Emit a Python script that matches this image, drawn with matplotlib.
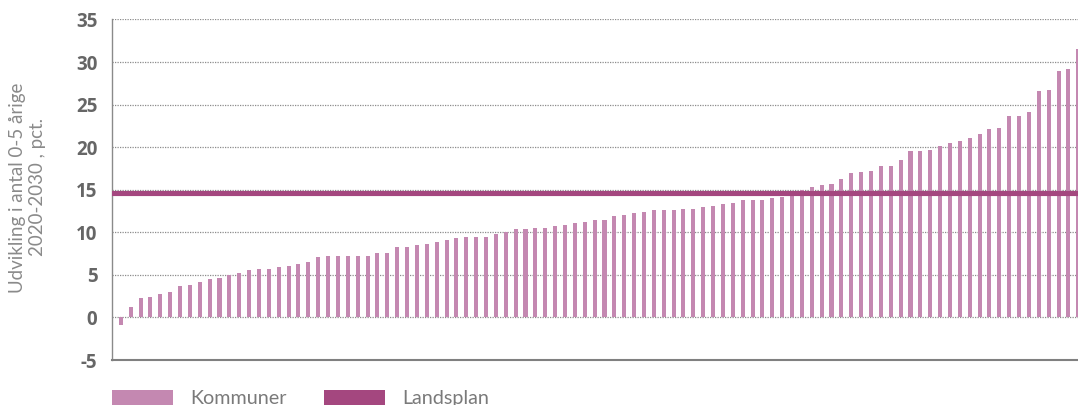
import numpy as np
import matplotlib.pyplot as plt
from matplotlib.patches import Rectangle

# Udvikling i antal 0-5 årige 2020-2030, pct. (kommuner sorteret)
kommuner = [
    -0.9, 1.2, 2.3, 2.4, 2.7, 3.0, 3.7, 3.8, 4.2, 4.5,
    4.6, 5.0, 5.2, 5.6, 5.7, 5.7, 5.9, 6.0, 6.3, 6.5,
    7.1, 7.2, 7.2, 7.2, 7.2, 7.2, 7.6, 7.6, 8.3, 8.3,
    8.5, 8.6, 8.9, 9.1, 9.3, 9.4, 9.4, 9.4, 9.8, 10.0,
    10.4, 10.4, 10.5, 10.5, 10.7, 10.9, 11.1, 11.2, 11.4, 11.4,
    11.9, 12.0, 12.3, 12.4, 12.6, 12.6, 12.6, 12.7, 12.7, 13.0,
    13.1, 13.3, 13.4, 13.8, 13.8, 13.8, 14.0, 14.1, 14.5, 15.0,
    15.3, 15.6, 15.7, 16.3, 17.0, 17.1, 17.2, 17.8, 17.8, 18.5,
    19.5, 19.5, 19.7, 20.1, 20.5, 20.7, 21.1, 21.5, 22.1, 22.2,
    23.7, 23.7, 24.1, 26.6, 26.7, 28.9, 29.2, 31.5,
]
landsplan = 14.6
yticks = [-5, 0, 5, 10, 15, 20, 25, 30, 35]

BAR_COLOR = "#C488B1"
LINE_COLOR = "#A4477F"
GREY = "#666666"

plt.rcParams["font.family"] = ["Lato", "DejaVu Sans"]
plt.rcParams["axes.unicode_minus"] = False

fig = plt.figure(figsize=(10.78, 4.05), dpi=100)
ax = fig.add_axes([112 / 1078, 1 - 360 / 405, 1 - 112 / 1078, (360 - 19.5) / 405])

x = np.arange(len(kommuner))
ax.bar(x, kommuner, width=0.41, color=BAR_COLOR, zorder=3)
ax.axhline(landsplan, color=LINE_COLOR, lw=3.7, zorder=4)

ax.set_xlim(-0.89, 96.97)
ax.set_ylim(-5, 35)
ax.set_yticks(yticks)
ax.set_xticks([])
ax.yaxis.grid(True, color="#8c8c8c", linestyle=(0, (1, 1)), lw=0.9, zorder=0)
ax.tick_params(axis="y", length=0, pad=10.5)
for lab in ax.get_yticklabels():
    lab.set_fontfamily(["Open Sans", "DejaVu Sans"])
    lab.set_fontweight("bold")
    lab.set_fontsize(13.5)
    lab.set_color(GREY)

for s in ["top", "right"]:
    ax.spines[s].set_visible(False)
ax.spines["left"].set_color("#8a8a8a")
ax.spines["left"].set_linewidth(1.0)
ax.spines["bottom"].set_color("#808080")
ax.spines["bottom"].set_linewidth(1.5)

fig.text(27.5 / 1078, 1 - 187.5 / 405, "Udvikling i antal 0-5 årige\n2020-2030 , pct.",
         rotation=90, ha="center", va="center", fontsize=13.5, color="#8a8a8a",
         linespacing=1.15)

# legend at bottom (cut off like the original)
for x0, col, label in [(112, BAR_COLOR, "Kommuner"), (324, LINE_COLOR, "Landsplan")]:
    fig.add_artist(Rectangle((x0 / 1078, 0), 61 / 1078, 15 / 405,
                             transform=fig.transFigure, color=col, lw=0))
    fig.text((x0 + 78) / 1078, 1 / 405, label, fontsize=14.2, color="#7a7a7a",
             ha="left", va="baseline")

fig.savefig("out.png", dpi=100)
